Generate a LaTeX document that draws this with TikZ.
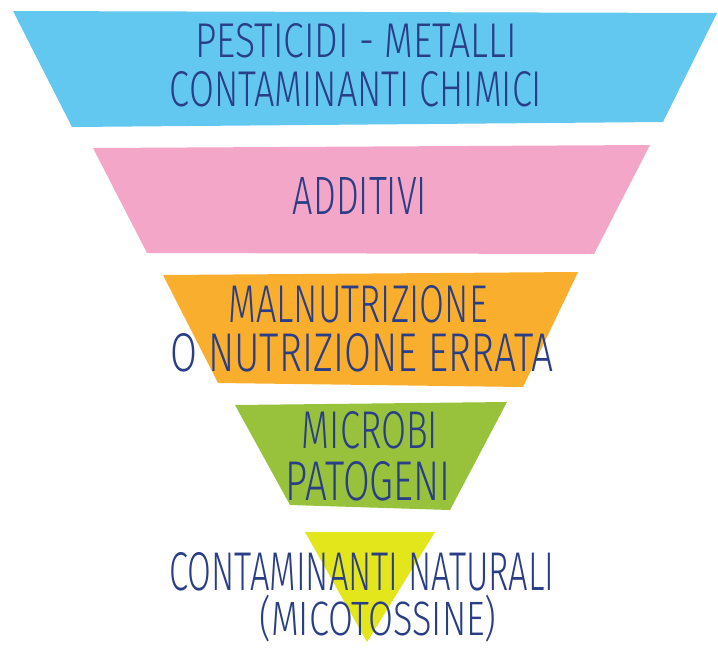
\documentclass[tikz,border=0pt]{standalone}
\usepackage{fontspec}
\usepackage{graphicx}
\setmainfont{Fira Sans}[UprightFont={* Light}]
\definecolor{bandblue}{RGB}{99,200,240}
\definecolor{bandpink}{RGB}{244,166,200}
\definecolor{bandorange}{RGB}{249,174,45}
\definecolor{bandgreen}{RGB}{152,194,60}
\definecolor{bandyellow}{RGB}{226,230,26}
\definecolor{inkblue}{RGB}{42,62,135}
\newcommand{\fitline}[3]{\resizebox{#1pt}{#2pt}{#3}}
\tikzset{
  lbl/.style={inner sep=0pt, outer sep=0pt, text=inkblue, anchor=center},
  band/.style={line join=round}
}
\begin{document}
\begin{tikzpicture}[x=1pt,y=-1pt]
\useasboundingbox[fill=white] (0,0) rectangle (718,657);
% bands
\fill[band,bandblue]   (13,11) -- (717,13) -- (663,122) -- (72,127) -- cycle;
\fill[band,bandpink]   (93,148) -- (650,145) -- (594,254) -- (147,253) -- cycle;
\fill[band,bandorange] (163,275) -- (578,272) -- (523,387) -- (218,383) -- cycle;
\fill[band,bandgreen]  (235,405) -- (507,402) -- (450,510) -- (290,505) -- cycle;
\fill[band,bandyellow] (305,532) -- (435,532) -- (367,642) -- cycle;
% labels
\node[lbl] (t1a) at (356,41) {\fitline{321}{34}{PESTICIDI - METALLI}};
\node[lbl] (t1b) at (356,89) {\fitline{372}{35}{CONTAMINANTI CHIMICI}};
\node[lbl] (t2)  at (360,196) {\fitline{134}{37}{ADDITIVI}};
\node[lbl] (t3a) at (358,304) {\fitline{259}{37}{MALNUTRIZIONE}};
\node[lbl] (t3b) at (362,353) {\fitline{383}{38}{O NUTRIZIONE ERRATA}};
\node[lbl] (t4a) at (370,430) {\fitline{136}{37}{MICROBI}};
\node[lbl] (t4b) at (368,481) {\fitline{165}{39}{PATOGENI}};
\node[lbl] (t5a) at (362,572) {\fitline{385}{38}{CONTAMINANTI NATURALI}};
\node[lbl] (t5b) at (378,619) {\resizebox*{237pt}{47pt}{(MICOTOSSINE)}};
\end{tikzpicture}
\end{document}
